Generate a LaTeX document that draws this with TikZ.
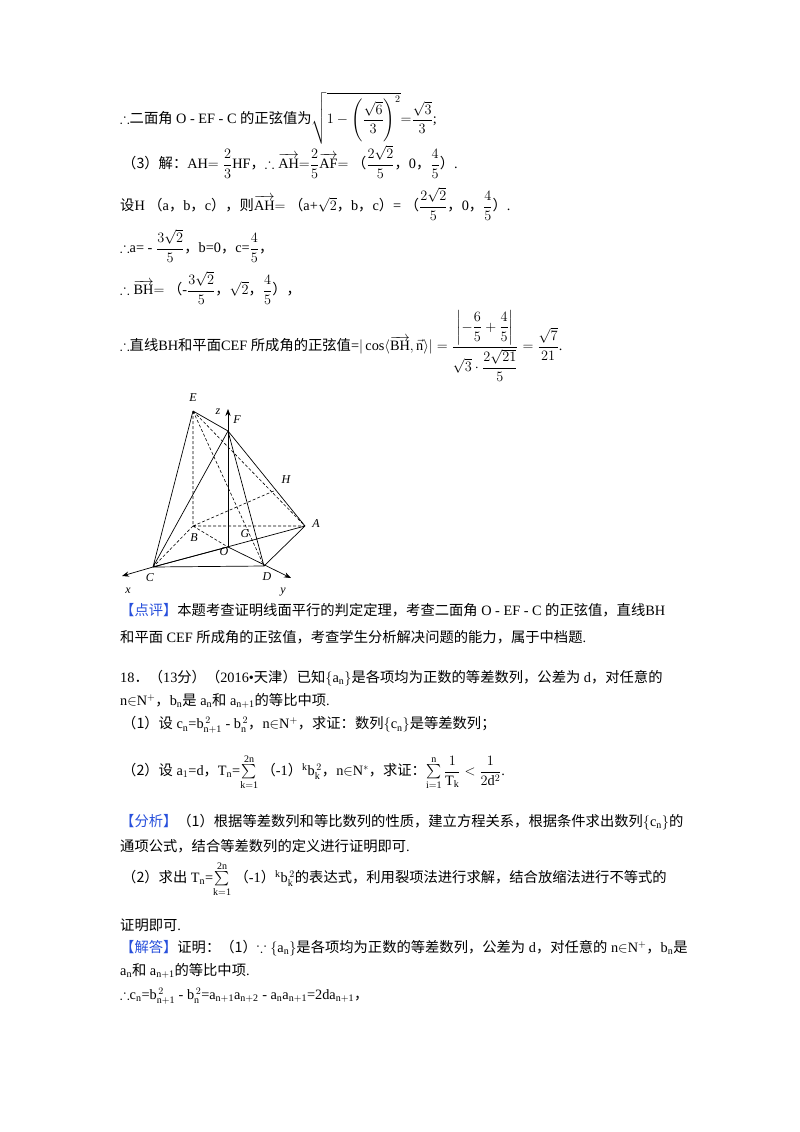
\documentclass[tikz,border=0pt]{standalone}
\usepackage{fix-cm}
\usepackage{amsmath,amssymb}
\usepackage{fontspec}
\setmainfont{Liberation Serif}
\newfontfamily\cjk{Noto Sans CJK SC}
\newcommand{\z}[1]{{\cjk #1}}
\newcommand{\vv}[1]{\overrightarrow{\mathrm{#1}}}
\definecolor{hl}{RGB}{40,80,220}
\usetikzlibrary{arrows.meta}
\begin{document}
\begin{tikzpicture}[x=1pt,y=-1pt,
  txt/.style={anchor=west,inner sep=0pt,font=\fontsize{14.3}{17}\selectfont},
  sol/.style={line width=0.7pt},
  dsh/.style={line width=0.6pt,dashed,dash pattern=on 3pt off 2pt},
  lbl/.style={font=\itshape\fontsize{12}{14}\selectfont,inner sep=1pt}]
\useasboundingbox[fill=white] (0,0) rectangle (800,1132);
% text block 1
\node[txt] (l1) at (120,118) {$\therefore$\z{二面角} O - EF - C \z{的正弦值为}$\sqrt{1-\left(\dfrac{\sqrt6}{3}\right)^2}{=}\dfrac{\sqrt3}{3}$;};
\node[txt] (l2) at (122,162) {\z{（3）解：}AH$=\dfrac{2}{3}$HF\z{，}$\therefore\vv{AH}{=}\dfrac25\vv{AF}{=}$ \z{（}$\dfrac{2\sqrt2}{5}$\z{，}0\z{，}$\dfrac45$\z{）}.};
\node[txt] (l3) at (120,204) {\z{设}H \z{（}a\z{，}b\z{，}c\z{），则}$\vv{AH}{=}$ \z{（}a+$\sqrt2$\z{，}b\z{，}c\z{）}= \z{（}$\dfrac{2\sqrt2}{5}$\z{，}0\z{，}$\dfrac45$\z{）}.};
\node[txt] (l4) at (120,246) {$\therefore$a= - $\dfrac{3\sqrt2}{5}$\z{，}b=0\z{，}c=$\dfrac45$\z{，}};
\node[txt] (l5) at (120,288) {$\therefore\vv{BH}{=}$ \z{（}-$\dfrac{3\sqrt2}{5}$\z{，}$\sqrt2$\z{，}$\dfrac45$\z{），}};
\node[txt] (l6) at (120,346) {$\therefore$\z{直线}BH\z{和平面}CEF \z{所成角的正弦值}=$|\cos\langle\vv{BH},\vec{\mathrm n}\rangle|=\dfrac{\left|-\dfrac65+\dfrac45\right|}{\sqrt3\cdot\dfrac{2\sqrt{21}}{5}}=\dfrac{\sqrt7}{21}$.};
% figure
\coordinate (E) at (193,411);
\coordinate (F) at (228,431);
\coordinate (O) at (228,547);
\coordinate (B) at (193,526);
\coordinate (A) at (305,526);
\coordinate (C) at (153,567);
\coordinate (D) at (264,566);
\coordinate (H) at (276,490);
\coordinate (G) at (243,510);
\coordinate (X) at (122,576);
\coordinate (Y) at (291,578);
\coordinate (Z) at (228,409);
\draw[dsh] (E)--(B) (E)--(D) (E)--(A) (B)--(A) (B)--(C) (B)--(O) (B)--(H);
\draw[sol] (E)--(C) (E)--(F) (F)--(A) (F)--(C) (F)--(D) (C)--(D) (D)--(A) (C)--(A);
\draw[sol,-{Stealth[length=7pt]}] (O)--(Z);
\draw[sol,-{Stealth[length=7pt]}] (C)--(X);
\draw[sol] (O)--(C);
\draw[sol,-{Stealth[length=7pt]}] (O)--(Y);
\node[lbl] (nE) at (193,398) {E};
\node[lbl] (nF) at (237,420) {F};
\node[lbl] (nz) at (218,412) {z};
\node[lbl] (nH) at (286,480) {H};
\node[lbl] (nA) at (316,524) {A};
\node[lbl] (nB) at (194,538) {B};
\node[lbl] (nG) at (245,534) {G};
\node[lbl] (nO) at (224,552) {O};
\node[lbl] (nC) at (150,578) {C};
\node[lbl] (nD) at (267,577) {D};
\node[lbl] (nx) at (128,591) {x};
\node[lbl] (ny) at (283,592) {y};
% text block 2
\node[txt] (p1) at (120,610) {\z{\color{hl}【点评】}\z{本题考查证明线面平行的判定定理，考查二面角} O - EF - C \z{的正弦值，直线}BH};
\node[txt] (p2) at (120,637) {\z{和平面} CEF \z{所成角的正弦值，考查学生分析解决问题的能力，属于中档题}.};
\node[txt] (q1) at (120,678) {18\z{．（}13\z{分）（}2016•\z{天津）已知}$\{$a$_\mathrm{n}\}$\z{是各项均为正数的等差数列，公差为} d\z{，对任意的}};
\node[txt] (q2) at (120,701) {n$\in$N$^+$\z{，}b$_\mathrm{n}$\z{是} a$_\mathrm{n}$\z{和} a$_\mathrm{n+1}$\z{的等比中项}.};
\node[txt] (q3) at (122,725) {\z{（1）设} c$_\mathrm{n}$=b$_{\mathrm{n+1}}^{\,2}$ - b$_\mathrm{n}^{\,2}$\z{，}n$\in$N$^+$\z{，求证：数列}$\{$c$_\mathrm{n}\}$\z{是等差数列；}};
\node[txt] (q4) at (122,772) {\z{（2）设} a$_1$=d\z{，}T$_\mathrm{n}$=$\sum\limits_{\mathrm{k=1}}^{\mathrm{2n}}$ \z{（}-1\z{）}$^\mathrm{k}$b$_\mathrm{k}^{\,2}$\z{，}n$\in$N$^*$\z{，求证：}$\sum\limits_{\mathrm{i=1}}^{\mathrm{n}}\dfrac{1}{\mathrm{T_k}}<\dfrac{1}{2\mathrm{d}^2}$.};
\node[txt] (r1) at (120,822) {\z{\color{hl}【分析】}\z{（1）根据等差数列和等比数列的性质，建立方程关系，根据条件求出数列}$\{$c$_\mathrm{n}\}$\z{的}};
\node[txt] (r2) at (120,846) {\z{通项公式，结合等差数列的定义进行证明即可}.};
\node[txt] (r3) at (122,879) {\z{（2）求出} T$_\mathrm{n}$=$\sum\limits_{\mathrm{k=1}}^{\mathrm{2n}}$ \z{（}-1\z{）}$^\mathrm{k}$b$_\mathrm{k}^{\,2}$\z{的表达式，利用裂项法进行求解，结合放缩法进行不等式的}};
\node[txt] (r4) at (120,925) {\z{证明即可}.};
\node[txt] (s1) at (120,948) {\z{\color{hl}【解答】}\z{证明：（1）}$\because\{$a$_\mathrm{n}\}$\z{是各项均为正数的等差数列，公差为} d\z{，对任意的} n$\in$N$^+$\z{，}b$_\mathrm{n}$\z{是}};
\node[txt] (s2) at (120,971) {a$_\mathrm{n}$\z{和} a$_\mathrm{n+1}$\z{的等比中项}.};
\node[txt] (s3) at (120,996) {$\therefore$c$_\mathrm{n}$=b$_{\mathrm{n+1}}^{\,2}$ - b$_\mathrm{n}^{\,2}$=a$_\mathrm{n+1}$a$_\mathrm{n+2}$ - a$_\mathrm{n}$a$_\mathrm{n+1}$=2da$_\mathrm{n+1}$\z{，}};
\end{tikzpicture}
\end{document}
